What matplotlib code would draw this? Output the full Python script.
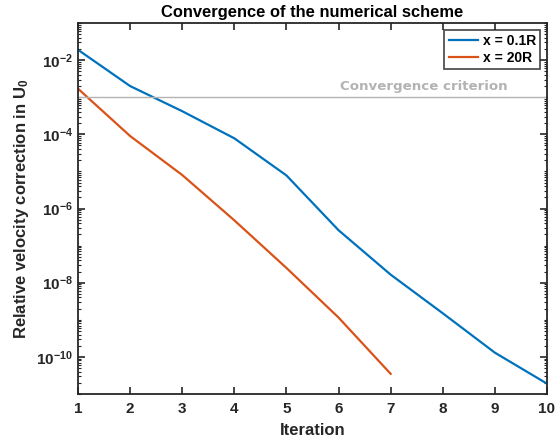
import numpy as np
import matplotlib
matplotlib.use("Agg")
import matplotlib.pyplot as plt
from matplotlib.ticker import LogLocator, FixedLocator, FuncFormatter, NullFormatter

plt.rcParams['font.family'] = ['Liberation Sans', 'DejaVu Sans']
plt.rcParams['font.weight'] = 'bold'
plt.rcParams['mathtext.fontset'] = 'custom'
plt.rcParams['mathtext.rm'] = 'Liberation Sans:bold'
plt.rcParams['mathtext.bf'] = 'Liberation Sans:bold'
plt.rcParams['mathtext.it'] = 'Liberation Sans:bold'

iters_a = [1, 2, 3, 4, 5, 6, 7, 8, 9, 10]
err_a = [1.9e-2, 2.0e-3, 4.2e-4, 7.8e-5, 7.8e-6, 2.6e-7, 1.65e-8, 1.5e-9, 1.3e-10, 1.9e-11]
iters_b = [1, 2, 3, 4, 5, 6, 7]
err_b = [1.7e-3, 9.0e-5, 8.0e-6, 4.8e-7, 2.5e-8, 1.15e-9, 3.5e-11]
criterion = 1e-3

blue = "#0072BD"
orange = "#D95319"
dark = "#262626"

fig = plt.figure(figsize=(5.57, 4.41), dpi=100)
ax = fig.add_axes([0.140, 0.1066, 0.842, 0.8412])

ax.semilogy(iters_a, err_a, color=blue, lw=1.6, label="x = 0.1R")
ax.semilogy(iters_b, err_b, color=orange, lw=1.6, label="x = 20R")
ax.axhline(criterion, color="#b3b3b3", lw=1.0)
ax.text(9.25, criterion * 1.3, "Convergence criterion", color="#b3b3b3",
        ha="right", va="bottom", fontsize=9.6, family="DejaVu Sans", weight="bold")

ax.set_xlim(1, 10)
ax.set_ylim(1e-11, 1e-1)
ax.set_xticks(range(1, 11))
ax.yaxis.set_major_locator(FixedLocator([1e-10, 1e-8, 1e-6, 1e-4, 1e-2]))
ax.yaxis.set_major_formatter(FuncFormatter(lambda v, p: r"$10^{-%d}$" % round(-np.log10(v))))
ax.yaxis.set_minor_locator(LogLocator(base=10, subs=np.arange(1, 10), numticks=30))
ax.yaxis.set_minor_formatter(NullFormatter())

ax.tick_params(which="both", direction="in", top=True, right=True, colors=dark,
               labelsize=11)
ax.tick_params(which="major", length=5, width=1.2)
ax.tick_params(which="minor", length=2.5, width=0.8)
ax.tick_params(axis="x", pad=6)
for s in ax.spines.values():
    s.set_linewidth(1.3)
    s.set_color(dark)

ax.set_xlabel("Iteration", fontsize=12, weight="bold", color=dark, labelpad=5)
ax.set_ylabel(r"Relative velocity correction in U$_0$", fontsize=12, weight="bold",
              color=dark, labelpad=4)
ax.set_title("Convergence of the numerical scheme", fontsize=11.9, weight="bold",
             color="black", pad=4)

leg = ax.legend(loc="upper right", fontsize=10, frameon=True, fancybox=False,
                borderaxespad=0.5, handlelength=2.1, handletextpad=0.35,
                borderpad=0.3, labelspacing=0.2)
leg.get_frame().set_edgecolor(dark)
leg.get_frame().set_linewidth(1.3)

fig.savefig("out.png", dpi=100)
